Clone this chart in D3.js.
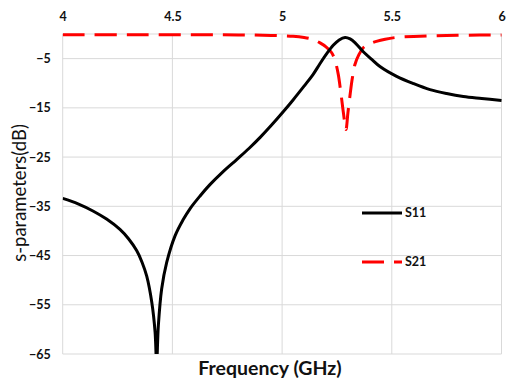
<!DOCTYPE html>
<html>
<head>
<meta charset="utf-8">
<script src="https://cdn.jsdelivr.net/npm/d3@7"></script>
<style>
  html, body { margin: 0; padding: 0; background: #fff; }
  svg { display: block; font-family: Lato, "Open Sans", sans-serif; }
</style>
</head>
<body>
<svg id="chart" width="507" height="383"></svg>
<script>
// Frequency ticks (GHz) and magnitude ticks (dB)
const xTicks = [4, 4.5, 5, 5.5, 6];
const yTicks = [-5, -15, -25, -35, -45, -55, -65];

// S11 reflection, [GHz, dB]
const s11 = [
  [4.00, -33.4], [4.07, -34.5], [4.14, -36.0], [4.20, -37.6], [4.261, -39.7],
  [4.30, -41.6], [4.337, -44.0], [4.362, -46.4], [4.383, -49.2], [4.406, -54.5],
  [4.421, -60.5], [4.428, -67.0], [4.436, -59.2], [4.451, -51.8], [4.474, -46.4],
  [4.512, -41.0], [4.548, -37.8], [4.58, -35.5], [4.626, -32.9], [4.671, -30.6],
  [4.73, -28.0], [4.793, -25.5], [4.85, -23.2], [4.90, -21.0], [4.95, -18.6],
  [5.005, -15.8], [5.05, -13.4], [5.10, -10.6], [5.14, -8.3], [5.173, -6.0],
  [5.205, -3.9], [5.233, -2.3], [5.26, -1.2], [5.287, -0.7], [5.31, -1.0],
  [5.335, -1.9], [5.37, -3.6], [5.41, -5.2], [5.446, -6.6], [5.522, -8.6],
  [5.60, -10.1], [5.674, -11.3], [5.75, -12.1], [5.826, -12.7], [5.91, -13.1],
  [6.00, -13.5]
];

// S21 transmission, [GHz, dB]
const s21 = [
  [4.00, -0.15], [4.30, -0.15], [4.60, -0.15], [4.80, -0.18], [4.95, -0.3],
  [5.05, -0.45], [5.10, -0.7], [5.14, -1.1], [5.173, -1.8], [5.20, -2.6],
  [5.226, -3.8], [5.242, -5.5], [5.256, -8.2], [5.268, -12.0], [5.28, -16.2],
  [5.291, -19.4], [5.30, -16.0], [5.31, -12.3], [5.32, -9.0], [5.332, -6.2],
  [5.35, -4.2], [5.37, -2.8], [5.40, -2.0], [5.43, -1.5], [5.47, -1.05],
  [5.52, -0.7], [5.60, -0.5], [5.75, -0.32], [5.90, -0.22], [6.00, -0.18]
];

const seriesNames = ["S11", "S21"];

const svg = d3.select("#chart");
const plotLeft = 62.7, plotRight = 501.5, plotTop = 34, plotBottom = 354;

const x = d3.scaleLinear().domain([4, 6]).range([plotLeft, plotRight]);
const y = d3.scaleLinear().domain([-65, 0]).range([plotBottom, plotTop]);

const grid = "#d9d9d9";

// gridlines
svg.append("g").selectAll("line")
  .data(yTicks.concat([0]))
  .join("line")
  .attr("x1", plotLeft).attr("x2", plotRight)
  .attr("y1", d => y(d)).attr("y2", d => y(d))
  .attr("stroke", grid).attr("stroke-width", 1);

svg.append("g").selectAll("line")
  .data(xTicks)
  .join("line")
  .attr("x1", d => x(d)).attr("x2", d => x(d))
  .attr("y1", plotTop).attr("y2", plotBottom)
  .attr("stroke", grid).attr("stroke-width", 1);

// tick labels: frequency along the top, magnitude on the left
const xAxis = d3.axisTop(x).tickValues(xTicks).tickSize(0).tickPadding(13)
  .tickFormat(d3.format("~g"));
svg.append("g")
  .attr("transform", `translate(0,${plotTop})`)
  .call(xAxis)
  .call(g => g.select(".domain").remove())
  .selectAll("text")
  .attr("font-family", "Lato, 'Open Sans', sans-serif")
  .attr("font-size", 12.5).attr("font-weight", "bold").attr("fill", "#111");

const yAxis = d3.axisLeft(y).tickValues(yTicks).tickSize(0).tickPadding(12);
svg.append("g")
  .attr("transform", `translate(${plotLeft},0)`)
  .call(yAxis)
  .call(g => g.select(".domain").remove())
  .selectAll("text")
  .attr("font-family", "Lato, 'Open Sans', sans-serif")
  .attr("font-size", 12.5).attr("font-weight", "bold").attr("fill", "#111");

// curves
svg.append("clipPath").attr("id", "plotClip")
  .append("rect").attr("x", plotLeft).attr("y", plotTop - 3)
  .attr("width", plotRight - plotLeft + 3).attr("height", plotBottom - plotTop + 3);

const line = d3.line()
  .x(d => x(d[0])).y(d => y(d[1]))
  .curve(d3.curveCatmullRom.alpha(0.5));

const plot = svg.append("g").attr("clip-path", "url(#plotClip)");

plot.append("path").datum(s21)
  .attr("d", line)
  .attr("fill", "none").attr("stroke", "#ff0000")
  .attr("stroke-width", 3).attr("stroke-dasharray", "22,10");

plot.append("path").datum(s11)
  .attr("d", line)
  .attr("fill", "none").attr("stroke", "#000")
  .attr("stroke-width", 3).attr("stroke-linejoin", "round");

// legend
const legend = svg.append("g");
const legendRows = [
  { name: seriesNames[0], color: "#000", dash: null, yv: 213 },
  { name: seriesNames[1], color: "#ff0000", dash: "22,10", yv: 262 }
];
legendRows.forEach(r => {
  legend.append("line")
    .attr("x1", 362).attr("x2", 402)
    .attr("y1", r.yv).attr("y2", r.yv)
    .attr("stroke", r.color).attr("stroke-width", 3)
    .attr("stroke-dasharray", r.dash);
  legend.append("text")
    .attr("x", 405).attr("y", r.yv).attr("dy", "0.35em")
    .attr("font-size", 12.5).attr("font-weight", "bold").attr("fill", "#111")
    .text(r.name);
});

// axis titles
svg.append("text")
  .attr("x", 270).attr("y", 375)
  .attr("text-anchor", "middle")
  .attr("font-size", 19.5).attr("font-weight", "bold").attr("fill", "#111")
  .text("Frequency (GHz)");

svg.append("text")
  .attr("transform", "translate(26,193) rotate(-90)")
  .attr("text-anchor", "middle")
  .attr("font-size", 18.5).attr("fill", "#111")
  .text("s-parameters(dB)");
</script>
</body>
</html>
